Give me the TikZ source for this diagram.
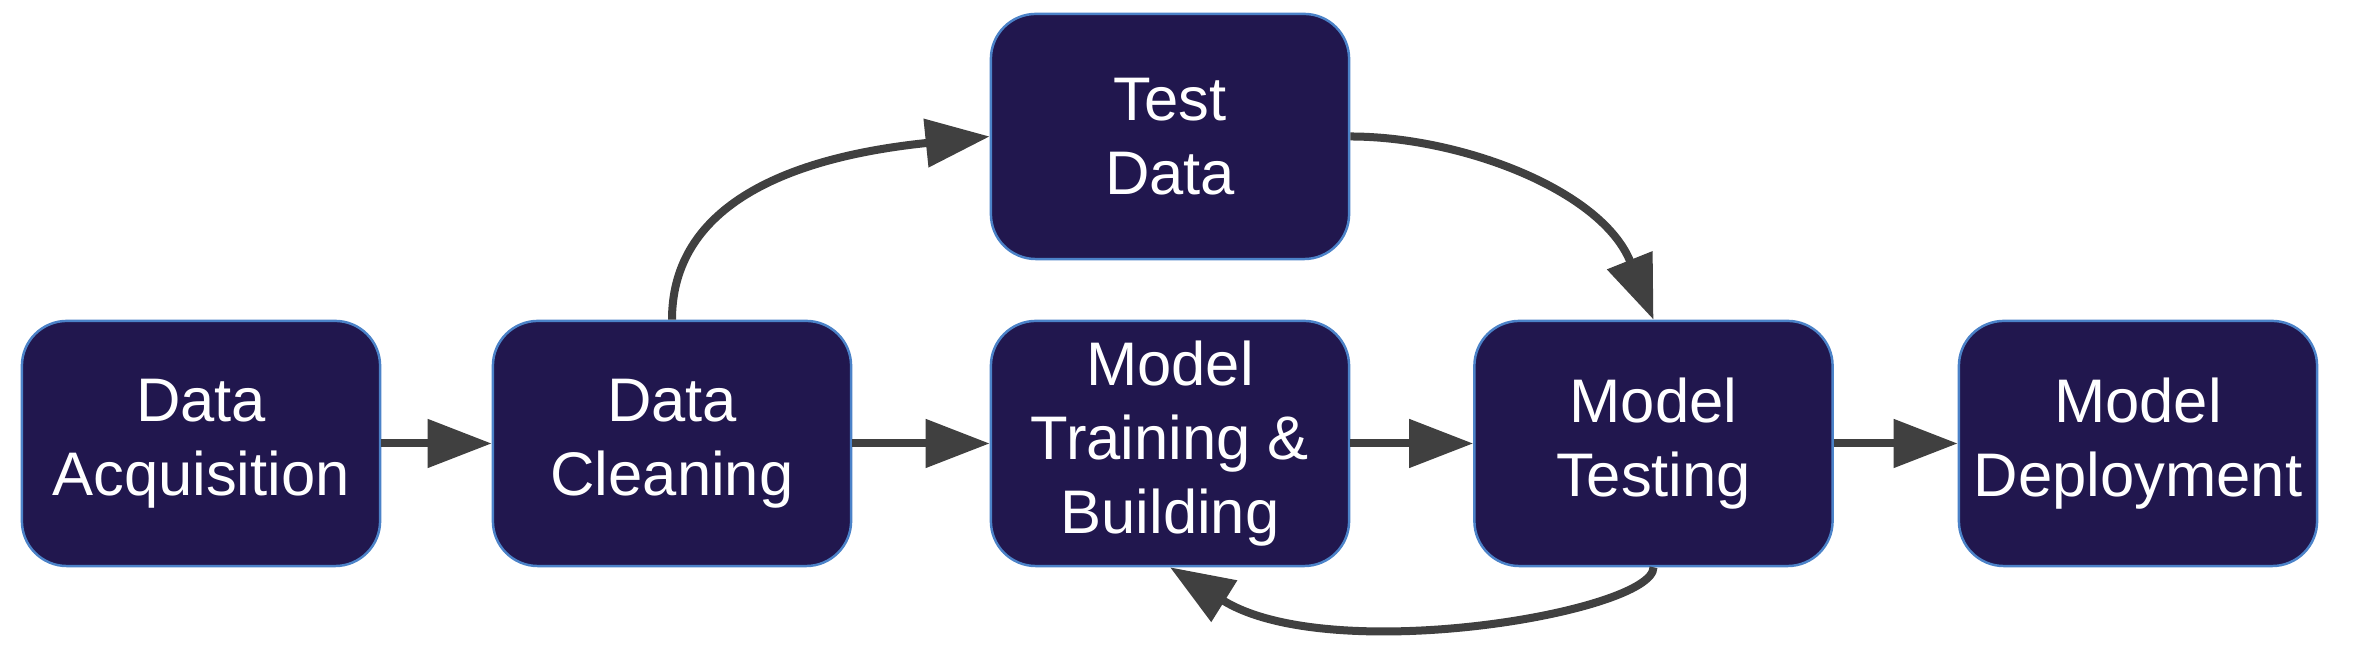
\documentclass[tikz,border=0pt]{standalone}
\usepackage{fontspec}
\setmainfont{Liberation Sans}
\usetikzlibrary{arrows.meta}
\definecolor{boxfill}{RGB}{33,23,78}
\definecolor{boxline}{RGB}{75,130,200}
\definecolor{arrowgray}{RGB}{64,64,64}
\begin{document}
\begin{tikzpicture}[x=0.01cm,y=0.01cm,
  stage/.style={draw=boxline, line width=0.7pt, fill=boxfill, rounded corners=0.45cm,
    minimum width=3.58cm, minimum height=2.45cm, text=white, align=center,
    font=\fontsize{17.5}{21}\selectfont, inner sep=0pt},
  flow/.style={draw=arrowgray, line width=0.08cm, -{Triangle[length=0.64cm,width=0.47cm]}}]
\useasboundingbox[fill=white] (0,0) rectangle (2356,662);
\node[stage] (da)  at (201,218.5)  {Data\\Acquisition};
\node[stage] (dc)  at (672,218.5)  {Data\\Cleaning};
\node[stage] (mtr) at (1170,218.5) {Model\\Training \&\\Building};
\node[stage] (mte) at (1653.5,218.5) {Model\\Testing};
\node[stage] (md)  at (2138,218.5) {Model\\Deployment};
\node[stage] (td)  at (1170,525.5) {Test\\Data};
\draw[flow] (da) -- (dc);
\draw[flow] (dc) -- (mtr);
\draw[flow] (mtr) -- (mte);
\draw[flow] (mte) -- (md);
\draw[flow] (dc.north) .. controls +(0,103) and +(-223,-23) .. (td.west);
\draw[flow] (td.east) .. controls +(110,0) and +(-52,130) .. (mte.north);
\draw[flow] (mte.south) .. controls +(0,-45) and +(160,-100) .. (mtr.south);
\end{tikzpicture}
\end{document}
